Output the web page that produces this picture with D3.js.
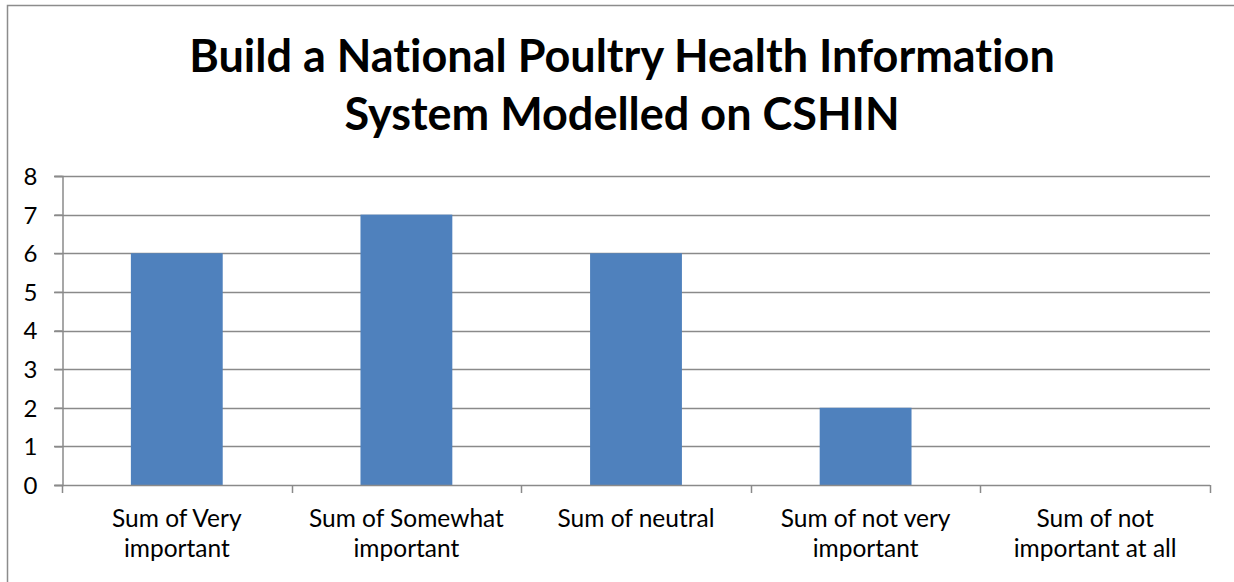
<!DOCTYPE html>
<html>
<head>
<meta charset="utf-8">
<script src="https://d3js.org/d3.v7.min.js"></script>
<style>
  html, body { margin: 0; padding: 0; background: #fff; }
  svg { display: block; }
  text { font-variant-ligatures: none; font-feature-settings: "liga" 0, "clig" 0; }
</style>
</head>
<body>
<svg id="chart" width="1234" height="582"></svg>
<script>
const titleLines = ["Build a National Poultry Health Information", "System Modelled on CSHIN"];
const categories = ["Sum of Very important", "Sum of Somewhat important", "Sum of neutral", "Sum of not very important", "Sum of not important at all"];
const categoryLabelLines = [
  ["Sum of Very", "important"],
  ["Sum of Somewhat", "important"],
  ["Sum of neutral"],
  ["Sum of not very", "important"],
  ["Sum of not", "important at all"]
];
const values = [6, 7, 6, 2, 0];
const yTicks = [0, 1, 2, 3, 4, 5, 6, 7, 8];

(function () {
const svg = d3.select("#chart");
const FONT = "Lato, 'Open Sans', sans-serif";
const gridColor = "#8a8a8a";

const pLeft = 62, pRight = 1210, pTop = 176, pBottom = 485;

// chart border
svg.append("rect")
  .attr("x", 7.5).attr("y", 5.5)
  .attr("width", 1300).attr("height", 700)
  .attr("fill", "#fff")
  .attr("stroke", "#8c8c8c").attr("stroke-width", 1.5);

const x = d3.scaleBand().domain(categories).range([pLeft, pRight]).paddingInner(0.6).paddingOuter(0.3);
const xb = d3.scaleBand().domain(categories).range([pLeft, pRight]).padding(0);
const y = d3.scaleLinear().domain([0, 8]).range([pBottom, pTop]);

// title
const title = svg.append("text")
  .attr("text-anchor", "middle")
  .attr("font-family", FONT)
  .attr("font-weight", "bold")
  .attr("font-size", 45)
  .attr("fill", "#000");
titleLines.forEach((t, i) => {
  title.append("tspan").attr("x", 622).attr("y", 72 + i * 58).text(t);
});

// gridlines
svg.append("g")
  .selectAll("line").data(yTicks.filter(d => d > 0)).join("line")
  .attr("x1", pLeft - 8).attr("x2", pRight)
  .attr("y1", d => Math.round(y(d)) + 0.5).attr("y2", d => Math.round(y(d)) + 0.5)
  .attr("stroke", gridColor).attr("stroke-width", 1.5);

// bars
svg.append("g")
  .selectAll("rect").data(values).join("rect")
  .attr("x", (d, i) => x(categories[i]))
  .attr("width", x.bandwidth())
  .attr("y", d => y(d))
  .attr("height", d => y(0) - y(d))
  .attr("fill", "#4f81bd");

// y axis
const yAxis = d3.axisLeft(y).tickValues(yTicks).tickSize(8).tickFormat(d3.format("d"));
const gy = svg.append("g").attr("transform", `translate(${pLeft + 0.5},0)`).call(yAxis);
gy.select(".domain").attr("stroke", gridColor).attr("stroke-width", 1.5);
gy.selectAll(".tick line").attr("stroke", gridColor).attr("stroke-width", 1.5);
gy.selectAll(".tick text")
  .attr("x", -25)
  .attr("dy", "0.35em")
  .attr("font-family", FONT).attr("font-size", 24).attr("fill", "#000");

// x axis
const boundaries = categories.map(c => xb(c)).concat([pRight]);
svg.append("line")
  .attr("x1", pLeft - 8).attr("x2", pRight)
  .attr("y1", Math.round(y(0)) + 0.5).attr("y2", Math.round(y(0)) + 0.5)
  .attr("stroke", gridColor).attr("stroke-width", 1.5);
svg.append("g").selectAll("line").data(boundaries).join("line")
  .attr("x1", d => Math.round(d) + 0.5).attr("x2", d => Math.round(d) + 0.5)
  .attr("y1", Math.round(y(0))).attr("y2", Math.round(y(0)) + 8)
  .attr("stroke", gridColor).attr("stroke-width", 1.5);

// x labels
const lbl = svg.append("g").selectAll("text").data(categories).join("text")
  .attr("text-anchor", "middle")
  .attr("font-family", FONT).attr("font-size", 24.5).attr("fill", "#000");
lbl.each(function(c, i) {
  const t = d3.select(this);
  categoryLabelLines[i].forEach((line, j) => {
    t.append("tspan")
      .attr("x", xb(c) + xb.bandwidth() / 2)
      .attr("y", 527 + j * 30)
      .text(line);
  });
});
})();
</script>
</body>
</html>
